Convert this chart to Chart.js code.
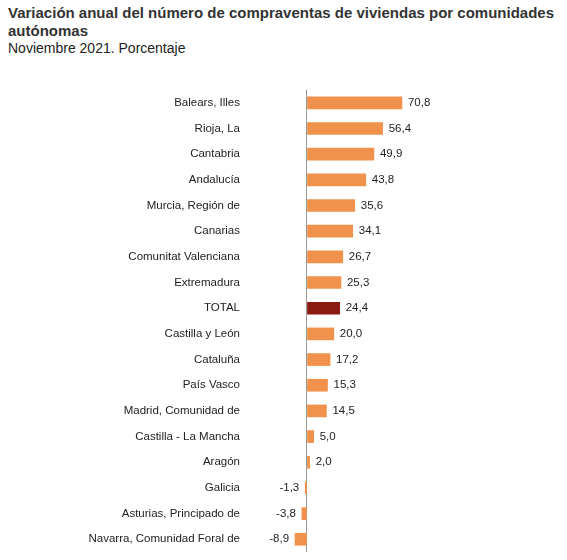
<!DOCTYPE html>
<html><head><meta charset="utf-8">
<script src="https://cdn.jsdelivr.net/npm/chart.js@4"></script>
<style>
body{margin:0;background:#fff;font-family:"Liberation Sans",Arial,sans-serif;}
#t{position:absolute;left:8px;top:4px;font-size:15px;font-weight:bold;color:#333;line-height:18px;}
#s{position:absolute;left:8px;top:40px;font-size:14px;color:#222;}
#w{position:absolute;left:0;top:60px;width:567px;height:500px;}
</style></head><body>
<div id="t">Variación anual del número de compraventas de viviendas por comunidades<br>autónomas</div>
<div id="s">Noviembre 2021. Porcentaje</div>
<div id="w"><canvas id="c"></canvas></div>
<script>
const categories=["Balears, Illes","Rioja, La","Cantabria","Andalucía","Murcia, Región de","Canarias","Comunitat Valenciana","Extremadura","TOTAL","Castilla y León","Cataluña","País Vasco","Madrid, Comunidad de","Castilla - La Mancha","Aragón","Galicia","Asturias, Principado de","Navarra, Comunidad Foral de"];
const values=[70.8,56.4,49.9,43.8,35.6,34.1,26.7,25.3,24.4,20.0,17.2,15.3,14.5,5.0,2.0,-1.3,-3.8,-8.9];
const colors=categories.map(c=>c==="TOTAL"?"#8B1A10":"#F0924C");
const valLabels={id:"vl",afterDatasetsDraw(ch){const ctx=ch.ctx;const m=ch.getDatasetMeta(0);ctx.save();ctx.font="11.5px 'Liberation Sans', Arial";ctx.fillStyle="#222";ctx.textBaseline="middle";
m.data.forEach((b,i)=>{const v=values[i];const s=v.toFixed(1).replace(".",",");if(v>=0){ctx.textAlign="left";ctx.fillText(s,b.x+6,b.y);}else{ctx.textAlign="right";ctx.fillText(s,b.x-6,b.y);}});ctx.restore();}};
new Chart(document.getElementById("c"),{type:"bar",data:{labels:categories,datasets:[{data:values,backgroundColor:colors,barThickness:12}]},
options:{indexAxis:"y",responsive:true,maintainAspectRatio:false,animation:false,
layout:{padding:{top:30,bottom:4,right:99,left:0}},
plugins:{legend:{display:false},tooltip:{enabled:false}},
scales:{x:{min:-43.2,max:120,ticks:{display:false},border:{display:false},grid:{drawTicks:false,color:c=>c.tick&&c.tick.value===0?"#999":"transparent",lineWidth:1}},
y:{afterFit:a=>{a.width=249;},grid:{display:false},border:{display:false},ticks:{color:"#222",font:{size:11.5,family:"'Liberation Sans', Arial"},padding:1}}}},
plugins:[valLabels]});
</script></body></html>
